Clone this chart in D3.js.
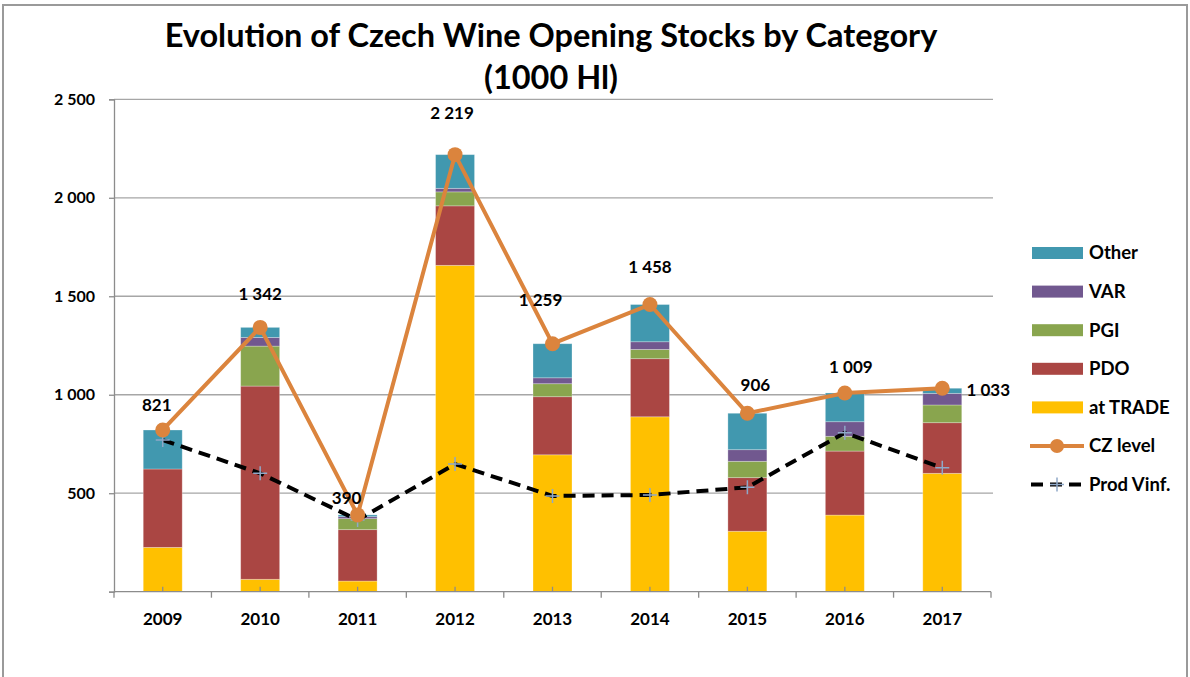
<!DOCTYPE html>
<html>
<head>
<meta charset="utf-8">
<script src="https://cdn.jsdelivr.net/npm/d3@7"></script>
<style>
  body { margin: 0; background: #fff; }
  text { font-family: Lato, "Liberation Sans", sans-serif; font-weight: bold; fill: #000; }
</style>
</head>
<body>
<svg id="chart" width="1190" height="677"></svg>
<script>
// chart values (1000 hl)
const years = ['2009', '2010', '2011', '2012', '2013', '2014', '2015', '2016', '2017']
const atTrade = [225, 63, 54, 1657, 695, 888, 307, 389, 601]
const pdo = [398, 981, 261, 302, 295, 295, 272, 325, 257]
const pgi = [0, 203, 56, 71, 66, 47, 83, 75, 90]
const varWine = [0, 44, 10, 18, 30, 39, 59, 74, 59]
const other = [198, 51, 9, 171, 173, 189, 185, 146, 26]
const czLevel = [821, 1342, 390, 2219, 1259, 1458, 906, 1009, 1033]
const prodVinf = [770, 601, 364, 648, 486, 491, 530, 807, 629]
const yTicks = [0, 500, 1000, 1500, 2000, 2500]

const seriesNames = ['at TRADE', 'PDO', 'PGI', 'VAR', 'Other']
const seriesColors = ['#FFC000', '#AA4643', '#89A54E', '#71588F', '#4198AF']

const svg = d3.select('#chart')
const fmt = d => d3.format(',')(d).replace(/,/g, ' ')

// outer chart border
svg.append('rect')
  .attr('x', 3).attr('y', 5)
  .attr('width', 1184).attr('height', 690)
  .attr('fill', 'none').attr('stroke', '#9a9a9a').attr('stroke-width', 2)

const x = d3.scaleBand().domain(years).range([114, 991]).paddingInner(0.6).paddingOuter(0.3)
const y = d3.scaleLinear().domain([0, 2500]).range([591.7, 99.3])
const step = x.step()
const cx = d => x(d) + x.bandwidth() / 2

// gridlines
svg.append('g')
  .selectAll('line')
  .data(yTicks.slice(1))
  .join('line')
  .attr('x1', 114).attr('x2', 993)
  .attr('y1', d => y(d)).attr('y2', d => y(d))
  .attr('stroke', '#a6a6a6').attr('stroke-width', 1.3)

// y axis (no label at zero, like the original)
const yAxis = d3.axisLeft(y)
  .tickValues(yTicks)
  .tickSize(5)
  .tickPadding(14)
  .tickFormat(d => d === 0 ? '' : fmt(d))

svg.append('g')
  .attr('transform', 'translate(114,0)')
  .call(yAxis)
  .call(g => g.select('.domain').attr('stroke', '#8c8c8c').attr('stroke-width', 1.3))
  .call(g => g.selectAll('.tick line').attr('stroke', '#8c8c8c').attr('stroke-width', 1.3))
  .call(g => g.selectAll('.tick text').attr('font-size', 16).attr('font-family', 'Lato, sans-serif').attr('font-weight', 'bold'))

// stacked bars
const rows = years.map((yr, i) => ({
  year: yr,
  'at TRADE': atTrade[i],
  PDO: pdo[i],
  PGI: pgi[i],
  VAR: varWine[i],
  Other: other[i]
}))
const stacked = d3.stack().keys(seriesNames)(rows)

svg.append('g')
  .selectAll('g')
  .data(stacked)
  .join('g')
  .attr('fill', (d, i) => seriesColors[i])
  .selectAll('rect')
  .data(d => d)
  .join('rect')
  .attr('x', d => x(d.data.year))
  .attr('y', d => y(d[1]))
  .attr('width', x.bandwidth())
  .attr('height', d => y(d[0]) - y(d[1]))
  .attr('stroke', 'rgba(255,255,255,0.35)')
  .attr('stroke-width', 0.8)

// x axis
const xAxis = svg.append('g')
xAxis.append('line')
  .attr('x1', 114).attr('x2', 991)
  .attr('y1', y(0)).attr('y2', y(0))
  .attr('stroke', '#8c8c8c').attr('stroke-width', 1.3)
xAxis.selectAll('line.major')
  .data(d3.range(years.length + 1))
  .join('line')
  .attr('class', 'major')
  .attr('x1', i => 114 + i * step).attr('x2', i => 114 + i * step)
  .attr('y1', y(0)).attr('y2', y(0) + 6)
  .attr('stroke', '#8c8c8c').attr('stroke-width', 1.3)
xAxis.selectAll('line.minor')
  .data(years)
  .join('line')
  .attr('class', 'minor')
  .attr('x1', cx).attr('x2', cx)
  .attr('y1', y(0) - 5).attr('y2', y(0))
  .attr('stroke', '#8c8c8c').attr('stroke-width', 1.3)
xAxis.selectAll('text')
  .data(years)
  .join('text')
  .attr('x', cx)
  .attr('y', 625)
  .attr('text-anchor', 'middle')
  .attr('font-size', 17)
  .text(d => d)

// Prod Vinf dashed line
const line = d3.line().x((d, i) => cx(years[i])).y(d => y(d))

svg.append('path')
  .datum(prodVinf)
  .attr('d', line)
  .attr('fill', 'none')
  .attr('stroke', '#000')
  .attr('stroke-width', 4)
  .attr('stroke-dasharray', '12,7')

const cross = (g, px, py) => {
  g.append('path')
    .attr('d', `M${px - 7},${py}H${px + 7}M${px},${py - 7}V${py + 7}`)
    .attr('stroke', '#8fa8c8')
    .attr('stroke-width', 1.5)
}
const crosses = svg.append('g')
prodVinf.forEach((v, i) => cross(crosses, cx(years[i]), y(v)))

// CZ level line
svg.append('path')
  .datum(czLevel)
  .attr('d', line)
  .attr('fill', 'none')
  .attr('stroke', '#DB843D')
  .attr('stroke-width', 4)

svg.append('g')
  .selectAll('circle')
  .data(czLevel)
  .join('circle')
  .attr('cx', (d, i) => cx(years[i]))
  .attr('cy', d => y(d))
  .attr('r', 7.5)
  .attr('fill', '#DB843D')

// data labels, nudged by hand like in the original
const labelNudge = [[-6, -25], [0, -33], [-11, -17], [-3, -42], [-12, -44], [0, -37], [8, -28], [6, -26], [46, 2]]
svg.append('g')
  .selectAll('text')
  .data(czLevel)
  .join('text')
  .attr('x', (d, i) => cx(years[i]) + labelNudge[i][0])
  .attr('y', (d, i) => y(d) + labelNudge[i][1])
  .attr('dy', '0.35em')
  .attr('text-anchor', 'middle')
  .attr('font-size', 17)
  .text(fmt)

// title
const title = svg.append('text')
  .attr('text-anchor', 'middle')
  .attr('font-size', 32.5)
title.append('tspan').attr('x', 551).attr('y', 47).text('Evolution of Czech Wine Opening Stocks by Category')
title.append('tspan').attr('x', 551).attr('y', 89).text('(1000 Hl)')

// legend
const legend = svg.append('g')
const legendItems = ['Other', 'VAR', 'PGI', 'PDO', 'at TRADE', 'CZ level', 'Prod Vinf.']
const legendY = i => 253 + i * 38.6

legendItems.forEach((name, i) => {
  const ly = legendY(i)
  if (i < 5) {
    legend.append('rect')
      .attr('x', 1032).attr('y', ly - 6)
      .attr('width', 51).attr('height', 12)
      .attr('fill', seriesColors[4 - i])
  } else if (name === 'CZ level') {
    legend.append('line')
      .attr('x1', 1030).attr('x2', 1084).attr('y1', ly).attr('y2', ly)
      .attr('stroke', '#DB843D').attr('stroke-width', 4)
    legend.append('circle').attr('cx', 1057).attr('cy', ly).attr('r', 7).attr('fill', '#DB843D')
  } else {
    legend.append('line')
      .attr('x1', 1031).attr('x2', 1084).attr('y1', ly).attr('y2', ly)
      .attr('stroke', '#000').attr('stroke-width', 4).attr('stroke-dasharray', '12,7')
    cross(legend, 1057, ly)
  }
  legend.append('text')
    .attr('x', 1089).attr('y', ly)
    .attr('dy', '0.35em')
    .attr('font-size', 18.5)
    .text(name)
})
</script>
</body>
</html>
